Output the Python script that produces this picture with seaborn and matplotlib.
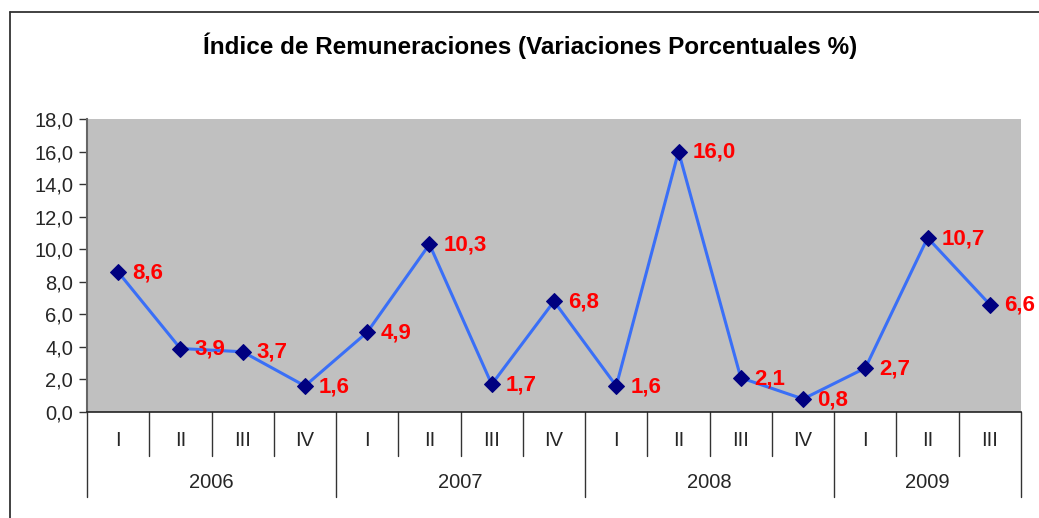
import numpy as np
import pandas as pd
import matplotlib
matplotlib.use('Agg')
import matplotlib.pyplot as plt
import matplotlib.transforms as mtransforms
from matplotlib.lines import Line2D
import seaborn as sns

# Data
quarters = ['I', 'II', 'III', 'IV', 'I', 'II', 'III', 'IV',
            'I', 'II', 'III', 'IV', 'I', 'II', 'III']
years = ['2006', '2007', '2008', '2009']
quarters_per_year = [4, 4, 4, 3]
values = [8.6, 3.9, 3.7, 1.6, 4.9, 10.3, 1.7, 6.8,
          1.6, 16.0, 2.1, 0.8, 2.7, 10.7, 6.6]
y_ticks = [0, 2, 4, 6, 8, 10, 12, 14, 16, 18]

# Colors
COLORS = {
    'plot_bg': '#c0c0c0',
    'line': '#3a6ff7',
    'marker': '#000080',
    'label': '#ff0000',
    'frame': '#333333',
}

sns.set_style('white')
plt.rcParams['font.family'] = ['Liberation Sans', 'DejaVu Sans']

df = pd.DataFrame({'pos': np.arange(len(values)), 'valor': values})

fig = plt.figure(figsize=(10.39, 5.18), dpi=100)
ax = fig.add_axes([87 / 1039, 1 - 412 / 518, (1021 - 87) / 1039, (412 - 119) / 518])
ax.set_facecolor(COLORS['plot_bg'])

sns.lineplot(data=df, x='pos', y='valor', ax=ax, color=COLORS['line'],
             linewidth=2.2, marker='D', markersize=8.5,
             markerfacecolor=COLORS['marker'], markeredgecolor=COLORS['marker'])

# Value labels to the right of each point
for x, v in zip(df['pos'], df['valor']):
    ax.annotate(f'{v:.1f}'.replace('.', ','), (x, v), xytext=(10, -0.5),
                textcoords='offset points', ha='left', va='center',
                color=COLORS['label'], fontsize=16, fontweight='bold')

# Axes limits and y ticks
ax.set_xlim(-0.5, len(values) - 0.5)
ax.set_ylim(0, 18)
ax.set_yticks(y_ticks)
ax.set_yticklabels([f'{t:.1f}'.replace('.', ',') for t in y_ticks])
ax.tick_params(axis='y', direction='out', length=6, width=1, color='#333333',
               labelsize=14.5, pad=4, left=True)
ax.set_xticks([])
ax.set_xlabel('')
ax.set_ylabel('')
ax.grid(False)

for side in ['top', 'right']:
    ax.spines[side].set_visible(False)
ax.spines['left'].set_color('#666666')
ax.spines['left'].set_linewidth(1.5)
ax.spines['bottom'].set_color('#222222')
ax.spines['bottom'].set_linewidth(1.2)

# Two-level category axis (quarters and years)
trans = mtransforms.blended_transform_factory(ax.transData, ax.transAxes)
q_sep = -44 / 293
y_sep = -85 / 293
for i, q in enumerate(quarters):
    ax.text(i, -28 / 293, q, transform=trans, ha='center', va='center',
            fontsize=14.5, clip_on=False)

boundaries = np.cumsum([0] + quarters_per_year) - 0.5
for b in np.arange(-0.5, len(values)):
    if b in boundaries:
        continue
    ax.add_line(Line2D([b, b], [0, q_sep], transform=trans, color='#333333',
                       linewidth=1.0, clip_on=False))
for b in boundaries:
    ax.add_line(Line2D([b, b], [0, y_sep], transform=trans, color='#333333',
                       linewidth=1.0, clip_on=False))
for i, yr in enumerate(years):
    center = (boundaries[i] + boundaries[i + 1]) / 2
    ax.text(center, -71 / 293, yr, transform=trans, ha='center', va='center',
            fontsize=14.5, clip_on=False)

# Title
fig.text(530 / 1039, 1 - 46 / 518,
         'Índice de Remuneraciones (Variaciones Porcentuales %)',
         ha='center', va='center', fontsize=17.5, fontweight='bold',
         color='black')

# Chart frame (left and top edges visible)
fig.add_artist(Line2D([10 / 1039, 10 / 1039], [0, 1 - 12 / 518],
                      transform=fig.transFigure, color=COLORS['frame'], linewidth=1.3))
fig.add_artist(Line2D([10 / 1039, 1], [1 - 12 / 518, 1 - 12 / 518],
                      transform=fig.transFigure, color=COLORS['frame'], linewidth=1.3))

fig.savefig('out.png', dpi=100)
plt.close(fig)
